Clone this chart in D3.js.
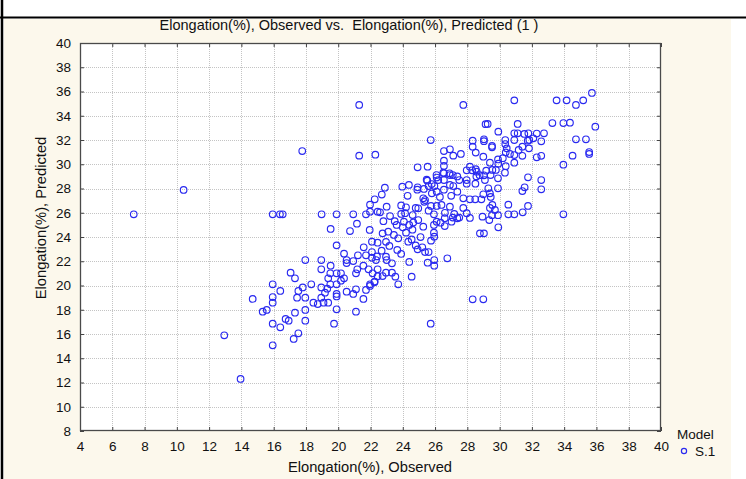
<!DOCTYPE html>
<html>
<head>
<meta charset="utf-8">
<script src="https://cdn.jsdelivr.net/npm/d3@7"></script>
<style>
  html, body { margin: 0; padding: 0; background: #ffffff; }
  svg { display: block; }
  text { font-family: "Liberation Sans", Arial, sans-serif; fill: #111; white-space: pre; }
</style>
</head>
<body>
<svg id="chart" width="746" height="479"></svg>
<script>
// ---- data ----
const chartTitle = "Elongation(%), Observed vs.  Elongation(%), Predicted (1 )";
const xLabel = "Elongation(%), Observed";
const yLabel = "Elongation(%), Predicted";
const legendTitle = "Model";
const seriesName = "S.1";
const xTicks = [4, 6, 8, 10, 12, 14, 16, 18, 20, 22, 24, 26, 28, 30, 32, 34, 36, 38, 40];
const yTicks = [8, 10, 12, 14, 16, 18, 20, 22, 24, 26, 28, 30, 32, 34, 36, 38, 40];
// [observed, predicted]
const s1Points = [
  [21.30,34.89],[17.77,31.09],[21.30,30.71],[22.30,30.79],[10.42,27.88],[7.33,25.87],[15.94,25.87],[16.39,25.87],[16.56,25.87],[18.97,25.87],
  [19.90,25.87],[20.93,25.87],[21.72,25.87],[21.97,26.09],[22.44,26.09],[22.26,27.11],[21.97,26.67],[21.16,25.10],[19.53,24.66],[20.73,24.49],
  [21.95,24.58],[19.90,23.31],[22.44,23.53],[22.09,23.61],[21.58,23.15],[20.36,22.62],[21.22,22.49],[21.72,22.49],[20.93,22.02],[20.52,22.10],
  [20.52,21.85],[21.56,21.63],[22.09,22.29],[22.34,22.10],[17.96,22.10],[18.95,22.10],[18.95,21.34],[19.53,21.63],[21.18,21.34],[21.88,21.34],
  [22.44,21.34],[19.90,21.01],[20.17,21.01],[19.51,21.01],[21.10,21.01],[22.13,21.01],[17.05,21.06],[17.32,20.59],[18.33,20.10],[15.94,20.10],
  [16.41,19.55],[14.70,18.89],[15.94,19.05],[15.94,18.58],[15.32,17.84],[15.57,17.98],[15.94,16.85],[16.41,16.55],[16.74,17.24],[16.93,17.10],
  [17.32,17.76],[17.53,19.55],[17.45,18.99],[17.80,19.84],[17.96,18.99],[17.96,17.98],[17.96,17.10],[18.46,18.58],[18.73,18.47],[18.95,18.99],
  [18.95,19.84],[19.18,19.41],[19.32,19.74],[19.09,18.58],[19.38,18.58],[19.38,20.59],[19.51,20.10],[19.90,20.10],[19.90,19.30],[19.90,19.10],
  [20.17,20.40],[20.36,20.59],[20.52,19.49],[20.93,19.30],[21.10,19.69],[21.72,19.63],[21.56,18.89],[21.10,17.84],[19.90,18.04],[19.74,16.85],
  [17.53,16.06],[17.24,15.59],[15.94,15.07],[12.94,15.89],[13.95,12.29],[22.26,20.32],[21.97,20.10],[22.44,20.76],[22.09,22.76],[35.72,35.88],
  [33.53,35.27],[34.15,35.27],[34.73,34.89],[35.18,35.27],[30.91,35.27],[27.75,34.89],[35.93,33.10],[33.27,33.40],[33.95,33.40],[34.36,33.43],
  [34.73,32.06],[35.35,32.06],[34.52,30.71],[35.55,31.01],[35.55,30.85],[33.95,29.96],[33.95,25.87],[32.75,32.55],[32.30,32.53],[32.58,31.89],
  [32.09,32.14],[31.84,32.00],[31.78,32.55],[31.53,32.50],[31.12,33.32],[30.91,32.55],[31.12,32.55],[31.74,31.94],[31.82,31.31],[31.41,31.45],
  [31.18,31.18],[30.91,32.00],[30.35,32.00],[30.35,31.67],[30.44,31.31],[30.38,30.98],[30.91,30.76],[31.41,30.70],[32.30,30.57],[32.58,30.70],
  [30.91,30.13],[30.33,29.30],[30.38,29.84],[29.92,32.69],[29.26,33.32],[29.13,33.30],[29.03,32.06],[29.03,31.90],[29.53,31.51],[29.53,31.40],
  [28.33,31.94],[28.33,31.45],[28.52,30.96],[28.99,30.62],[29.90,30.40],[30.20,30.50],[30.64,30.85],[29.40,30.13],[29.77,29.53],[29.17,29.47],
  [29.55,29.53],[29.92,30.05],[29.44,29.11],[29.03,29.09],[29.90,28.84],[28.58,29.39],[28.52,29.60],[28.16,29.80],[28.30,29.50],[27.96,29.50],
  [27.60,30.85],[27.13,30.71],[26.92,31.23],[26.55,31.09],[26.55,30.29],[25.73,32.00],[24.92,29.75],[25.54,29.80],[26.09,29.11],[26.55,29.25],
  [26.92,29.11],[27.10,29.11],[27.38,28.99],[27.96,28.70],[28.76,29.10],[29.09,28.70],[29.30,28.02],[29.90,28.02],[29.40,27.60],[29.45,27.30],
  [31.76,28.92],[32.58,28.70],[32.58,27.93],[31.55,28.10],[31.41,27.79],[31.76,26.56],[30.91,25.87],[30.54,25.87],[30.54,26.67],[31.43,26.04],
  [29.90,25.80],[29.71,26.23],[29.53,25.80],[29.36,25.40],[29.92,24.80],[28.78,24.30],[29.03,24.30],[29.55,26.64],[28.94,25.68],[29.40,26.40],
  [28.49,27.11],[28.87,27.11],[28.16,27.11],[28.99,27.52],[27.38,27.74],[26.92,28.29],[27.50,28.70],[27.96,28.40],[28.50,28.40],[28.56,29.00],
  [27.13,28.20],[26.55,28.70],[26.20,28.70],[26.55,27.90],[26.10,27.74],[26.30,27.30],[25.79,28.37],[25.60,28.20],[25.52,28.64],[25.96,28.20],
  [25.80,27.60],[25.31,27.96],[25.38,27.05],[25.33,26.90],[27.00,27.40],[27.75,27.19],[26.92,26.50],[26.40,26.64],[26.10,26.56],[25.75,26.56],
  [24.96,26.37],[25.60,26.17],[25.93,25.87],[26.61,26.00],[27.19,25.90],[27.38,25.54],[27.10,25.60],[27.50,25.60],[27.75,26.40],[27.96,25.96],
  [28.16,25.57],[27.02,25.26],[26.60,25.55],[26.34,25.18],[26.10,25.26],[26.60,24.90],[25.93,24.99],[25.93,24.36],[25.27,24.85],[24.96,25.40],
  [24.65,25.20],[24.61,25.81],[24.14,25.96],[24.07,25.26],[23.62,24.99],[23.21,25.73],[23.10,24.44],[22.89,28.07],[23.97,28.15],[24.38,28.29],
  [24.90,27.90],[24.92,28.10],[25.27,27.19],[24.80,26.40],[24.20,26.45],[23.90,25.90],[22.59,26.04],[25.48,28.73],[26.10,28.90],[26.51,29.30],
  [26.90,29.25],[26.55,29.86],[25.95,24.03],[25.75,23.70],[25.95,22.10],[25.95,21.63],[25.54,21.88],[26.76,22.24],[24.92,22.98],[25.21,23.15],
  [25.38,22.76],[25.60,22.76],[24.40,21.94],[24.55,20.73],[23.72,20.10],[23.54,20.73],[23.33,21.06],[22.75,20.78],[22.96,21.06],[22.24,20.26],
  [21.97,19.96],[23.33,21.83],[22.96,22.38],[22.69,22.87],[22.40,22.40],[23.66,22.93],[23.17,23.26],[22.96,23.60],[23.72,23.89],[23.45,24.17],
  [22.75,24.30],[24.20,24.36],[24.34,23.61],[24.55,23.80],[28.33,18.86],[28.99,18.86],[25.73,16.85],[24.60,24.60],[24.00,24.80],[23.50,25.30],
  [24.40,25.00],[23.90,26.60],[24.30,27.40],[23.00,26.50],[22.80,25.30],[25.10,24.00],[24.80,23.30],[23.90,22.60],[23.00,22.10],[22.70,27.50]
];

// ---- layout ----
const W = 746, H = 479;
const plot = { left: 80, right: 661, top: 43, bottom: 431 };

const svg = d3.select("#chart");

// page frame: white page, table border lines, cream chart background
svg.append("rect").attr("x", 0).attr("y", 0).attr("width", W).attr("height", H).attr("fill", "#ffffff");
svg.append("rect").attr("x", 4).attr("y", 19).attr("width", 727).attr("height", H - 19).attr("fill", "#fcf8ec");
svg.append("line").attr("x1", 0).attr("x2", W).attr("y1", 17.5).attr("y2", 17.5).attr("stroke", "#000").attr("stroke-width", 2);
svg.append("line").attr("x1", 2).attr("x2", 2).attr("y1", 0).attr("y2", H).attr("stroke", "#000").attr("stroke-width", 2.5);

// plot area
svg.append("rect")
  .attr("x", plot.left).attr("y", plot.top)
  .attr("width", plot.right - plot.left).attr("height", plot.bottom - plot.top)
  .attr("fill", "#ffffff");

const x = d3.scaleLinear().domain([4, 40]).range([plot.left, plot.right]);
const y = d3.scaleLinear().domain([8, 40]).range([plot.bottom, plot.top]);

// grid (dotted)
const grid = svg.append("g").attr("stroke", "#c4c4c4").attr("stroke-width", 1).attr("stroke-dasharray", "1,1");
grid.selectAll("line.v").data(xTicks.slice(1, -1)).join("line")
  .attr("x1", d => Math.round(x(d)) + 0.5).attr("x2", d => Math.round(x(d)) + 0.5)
  .attr("y1", plot.top).attr("y2", plot.bottom);
grid.selectAll("line.h").data(yTicks.slice(1, -1)).join("line")
  .attr("y1", d => Math.round(y(d)) + 0.5).attr("y2", d => Math.round(y(d)) + 0.5)
  .attr("x1", plot.left).attr("x2", plot.right);

// axes with inward ticks
const tickLen = 4;
const axB = svg.append("g").attr("transform", `translate(0,${plot.bottom})`)
  .call(d3.axisBottom(x).tickValues(xTicks).tickSize(-tickLen).tickPadding(10).tickFormat(d3.format("d")));
const axT = svg.append("g").attr("transform", `translate(0,${plot.top})`)
  .call(d3.axisTop(x).tickValues(xTicks).tickSize(-tickLen).tickFormat(""));
const axL = svg.append("g").attr("transform", `translate(${plot.left},0)`)
  .call(d3.axisLeft(y).tickValues(yTicks).tickSize(-tickLen).tickPadding(9).tickFormat(d3.format("d")));
const axR = svg.append("g").attr("transform", `translate(${plot.right},0)`)
  .call(d3.axisRight(y).tickValues(yTicks).tickSize(-tickLen).tickFormat(""));
[axB, axT, axL, axR].forEach(a => {
  a.select(".domain").remove();
  a.selectAll(".tick line").attr("stroke", "#444").attr("stroke-width", 1);
  a.selectAll(".tick text").attr("font-size", 13.5).attr("fill", "#111")
    .attr("font-family", '"Liberation Sans", Arial, sans-serif');
});

// plot border
svg.append("rect")
  .attr("x", plot.left + 0.5).attr("y", plot.top + 0.5)
  .attr("width", plot.right - plot.left - 1).attr("height", plot.bottom - plot.top - 1)
  .attr("fill", "none").attr("stroke", "#4a4a4a").attr("stroke-width", 1.3);

// points
svg.append("g").selectAll("circle").data(s1Points).join("circle")
  .attr("cx", d => x(d[0])).attr("cy", d => y(d[1])).attr("r", 3.3)
  .attr("fill", "none").attr("stroke", "#2a2af0").attr("stroke-width", 1.15);

// title and axis labels
svg.append("text").attr("x", 349).attr("y", 30).attr("text-anchor", "middle")
  .attr("font-size", 14.5).text(chartTitle);
svg.append("text").attr("x", 370).attr("y", 472).attr("text-anchor", "middle")
  .attr("font-size", 14.7).text(xLabel);
svg.append("text").attr("transform", `translate(46,218) rotate(-90)`)
  .attr("text-anchor", "middle").attr("font-size", 14.7).text(yLabel);

// legend
svg.append("text").attr("x", 677).attr("y", 439).attr("font-size", 13.5).text(legendTitle);
svg.append("circle").attr("cx", 684).attr("cy", 451).attr("r", 2.6)
  .attr("fill", "none").attr("stroke", "#2a2af0").attr("stroke-width", 1.2);
svg.append("text").attr("x", 695).attr("y", 456).attr("font-size", 13.5).text(seriesName);
</script>
</body>
</html>
